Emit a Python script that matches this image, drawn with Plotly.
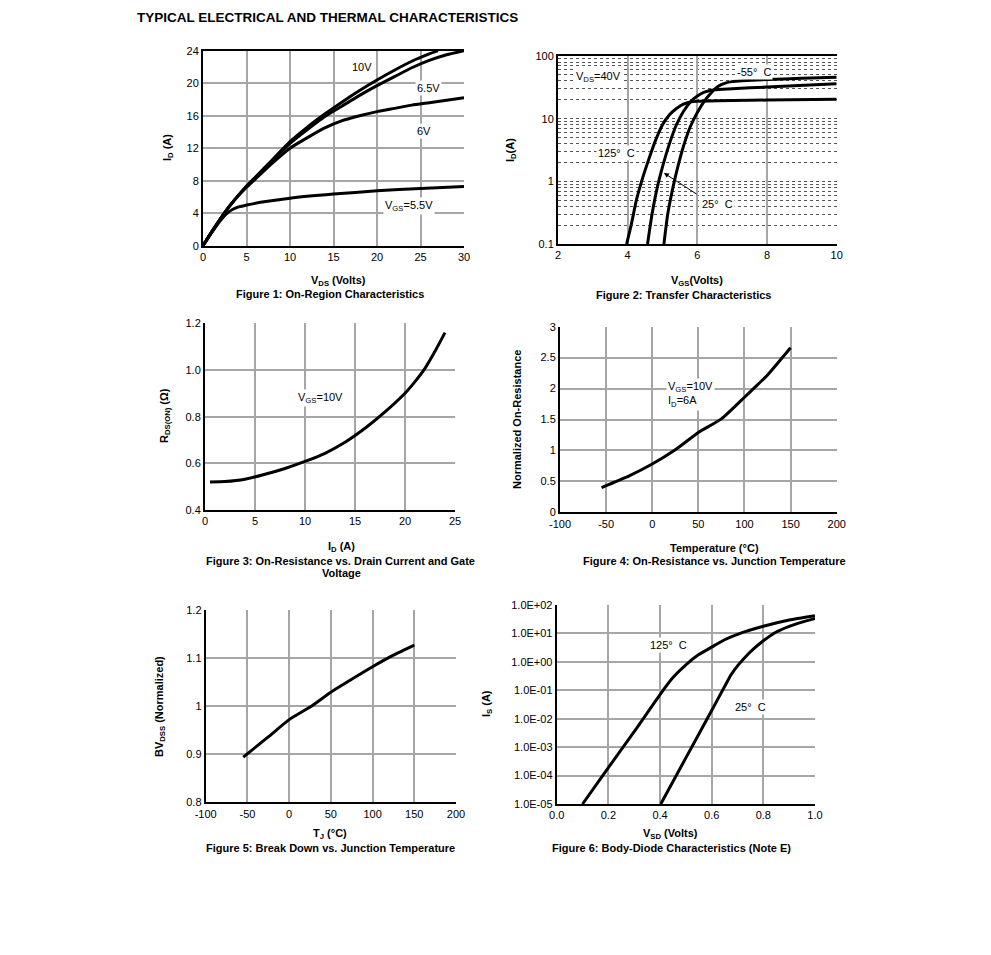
import plotly.graph_objects as go
from plotly.subplots import make_subplots

# ---------------- Data ----------------
# Figure 1: On-region characteristics (VDS, ID)
f1_vds_10 = [0, 1, 2, 3, 4, 5, 6, 8, 10, 12, 14, 16, 18, 20, 22, 24, 26, 27]
f1_id_10 = [0, 1.7, 3.3, 4.8, 6.1, 7.3, 8.4, 10.6, 12.8, 14.6, 16.2, 17.7, 19.1, 20.4, 21.6, 22.7, 23.6, 24.0]
f1_vds_65 = [0, 1, 2, 3, 4, 5, 6, 8, 10, 12, 14, 16, 18, 20, 22, 24, 26, 28, 30]
f1_id_65 = [0, 1.7, 3.3, 4.8, 6.1, 7.3, 8.4, 10.5, 12.6, 14.3, 15.9, 17.2, 18.5, 19.7, 20.8, 21.9, 22.8, 23.5, 24.0]
f1_vds_6 = [0, 1, 2, 3, 4, 5, 6, 8, 10, 12, 14, 16, 18, 20, 22, 24, 26, 28, 30]
f1_id_6 = [0, 1.7, 3.3, 4.8, 6.1, 7.2, 8.2, 10.2, 12.0, 13.3, 14.5, 15.4, 16.0, 16.5, 16.9, 17.3, 17.6, 17.9, 18.2]
f1_vds_55 = [0, 1, 2, 3, 4, 5, 7, 10, 15, 20, 25, 30]
f1_id_55 = [0, 1.6, 3.1, 4.2, 4.75, 5.0, 5.4, 5.85, 6.35, 6.75, 7.05, 7.3]

# Figure 2: Transfer characteristics (VGS, ID)
f2_vgs_125 = [3.97, 4.1, 4.25, 4.4, 4.6, 4.8, 5.0, 5.2, 5.4, 5.6, 5.8, 6.0, 7.0, 8.0, 10.0]
f2_id_125 = [0.1, 0.2, 0.5, 1.0, 2.2, 4.5, 8.0, 11.5, 14.5, 17.0, 18.5, 19.0, 19.5, 19.8, 20.5]
f2_vgs_25 = [4.57, 4.7, 4.85, 5.0, 5.2, 5.4, 5.6, 5.8, 6.0, 6.2, 6.5, 7.0, 8.0, 10.0]
f2_id_25 = [0.1, 0.3, 0.8, 1.7, 4.0, 8.0, 13.0, 18.5, 23.0, 26.5, 29.0, 30.0, 32.0, 36.0]
f2_vgs_m55 = [5.04, 5.15, 5.3, 5.45, 5.6, 5.8, 6.0, 6.2, 6.4, 6.6, 6.8, 7.0, 8.0, 9.0, 10.0]
f2_id_m55 = [0.1, 0.3, 0.8, 1.8, 3.6, 7.5, 12.5, 19.0, 26.0, 33.0, 37.0, 39.0, 42.0, 44.0, 46.0]

# Figure 3: On-resistance vs drain current
f3_id = [0.5, 2, 4, 6, 8, 10, 12, 14, 16, 18, 20, 21, 22, 23, 24]
f3_rds = [0.52, 0.522, 0.532, 0.553, 0.578, 0.608, 0.643, 0.69, 0.75, 0.82, 0.9, 0.95, 1.007, 1.08, 1.16]

# Figure 4: Normalized on-resistance vs temperature
f4_temp = [-55, -25, 0, 25, 50, 75, 100, 112, 125, 150]
f4_rn = [0.40, 0.59, 0.78, 1.01, 1.29, 1.51, 1.86, 2.03, 2.22, 2.66]

# Figure 5: Breakdown vs junction temperature
f5_temp = [-55, -25, 0, 25, 50, 75, 100, 125, 150]
f5_bv = [0.894, 0.936, 0.972, 0.998, 1.029, 1.056, 1.082, 1.106, 1.127]

# Figure 6: Body-diode characteristics (VSD, IS)
f6_vsd_125 = [0.1, 0.2, 0.3, 0.4, 0.45, 0.5, 0.55, 0.6, 0.65, 0.7, 0.8, 0.9, 1.0]
f6_is_125 = [1e-5, 1.9e-4, 3.5e-3, 7.1e-2, 2.8e-1, 7.9e-1, 1.8, 3.3, 6.0, 9.3, 17.8, 29.5, 41.7]
f6_vsd_25 = [0.403, 0.5, 0.6, 0.65, 0.675, 0.7, 0.725, 0.76, 0.8, 0.85, 0.9, 0.95, 1.0]
f6_is_25 = [1e-5, 4.2e-4, 1.95e-2, 0.135, 0.35, 0.72, 1.32, 2.75, 5.5, 11.2, 17.8, 25.1, 33.9]

f6_tickvals = [1e-5, 1e-4, 1e-3, 1e-2, 1e-1, 1, 10, 100]
f6_ticktext = ["1.0E-05", "1.0E-04", "1.0E-03", "1.0E-02", "1.0E-01", "1.0E+00", "1.0E+01", "1.0E+02"]
temp_ticks = [-100, -50, 0, 50, 100, 150, 200]
temp_ticktext = ["-100", "-50", "0", "50", "100", "150", "200"]

# ---------------- Figure ----------------
PAGE_W, PAGE_H = 991, 955
OFF = 8  # page body margin
W, H = PAGE_W - 2 * OFF, PAGE_H - 2 * OFF
FONT = "Liberation Sans, Arial, sans-serif"
GRID = "#a6a6a6"
LINE = dict(color="black", width=3, shape="spline", smoothing=0.5)

fig = make_subplots(rows=3, cols=2)

def px_dom_x(a, b):
    return [(a - OFF) / W, (b - OFF) / W]

def px_dom_y(top, bottom):
    return [1 - (bottom - OFF) / H, 1 - (top - OFF) / H]

doms = {
    1: (px_dom_x(203, 464), px_dom_y(50.7, 245.7)),
    2: (px_dom_x(558, 836.7), px_dom_y(56, 244)),
    3: (px_dom_x(205, 455), px_dom_y(323.3, 510)),
    4: (px_dom_x(560, 836.7), px_dom_y(326.7, 512.3)),
    5: (px_dom_x(205.7, 456), px_dom_y(610, 802.3)),
    6: (px_dom_x(556.7, 815), px_dom_y(605, 804)),
}

def add(x, y, r, c):
    fig.add_trace(go.Scatter(x=x, y=y, mode="lines", line=LINE, showlegend=False,
                             hoverinfo="skip"), row=r, col=c)

add(f1_vds_10, f1_id_10, 1, 1)
add(f1_vds_65, f1_id_65, 1, 1)
add(f1_vds_6, f1_id_6, 1, 1)
add(f1_vds_55, f1_id_55, 1, 1)
add(f2_vgs_125, f2_id_125, 1, 2)
add(f2_vgs_25, f2_id_25, 1, 2)
add(f2_vgs_m55, f2_id_m55, 1, 2)
add(f3_id, f3_rds, 2, 1)
add(f4_temp, f4_rn, 2, 2)
add(f5_temp, f5_bv, 3, 1)
add(f6_vsd_125, f6_is_125, 3, 2)
add(f6_vsd_25, f6_is_25, 3, 2)

tickfont = dict(family=FONT, size=11, color="black")
common_x = dict(showline=True, linecolor="black", linewidth=2, showgrid=True, gridcolor=GRID,
                gridwidth=1.5, zeroline=False, ticks="", tickfont=tickfont, automargin=False)
common_y = dict(showline=True, linecolor="black", linewidth=2, showgrid=True, gridcolor=GRID,
                gridwidth=1.5, zeroline=False, ticks="", tickfont=tickfont, automargin=False)

axes_cfg = {
    1: (dict(range=[0, 30], dtick=5, tick0=0, mirror=True),
        dict(range=[0, 24], dtick=4, tick0=0)),
    2: (dict(range=[2, 10], dtick=2, tick0=2, mirror=True),
        dict(type="log", range=[-1, 2], tickvals=[0.1, 1, 10, 100], ticktext=["0.1", "1", "10", "100"],
             gridcolor="#555555", griddash="dot", gridwidth=1,
             minor=dict(showgrid=True, gridcolor="#555555", griddash="dot", gridwidth=1, dtick="D1"))),
    3: (dict(range=[0, 25], dtick=5, tick0=0),
        dict(range=[0.4, 1.2], dtick=0.2, tick0=0.4, tickformat=".1f")),
    4: (dict(range=[-100, 200], tickvals=temp_ticks, ticktext=temp_ticktext),
        dict(range=[0, 3], dtick=0.5, tick0=0)),
    5: (dict(range=[-100, 200], tickvals=temp_ticks, ticktext=temp_ticktext),
        dict(range=[0.8, 1.2], tickvals=[0.8, 0.9, 1.0, 1.1, 1.2], ticktext=["0.8", "0.9", "1", "1.1", "1.2"])),
    6: (dict(range=[0, 1], dtick=0.2, tick0=0, tickformat=".1f"),
        dict(type="log", range=[-5, 2], tickvals=f6_tickvals, ticktext=f6_ticktext)),
}

for i in range(1, 7):
    xs = "xaxis" if i == 1 else f"xaxis{i}"
    ys = "yaxis" if i == 1 else f"yaxis{i}"
    xd, yd = doms[i]
    xc = dict(common_x); xc.update(axes_cfg[i][0]); xc["domain"] = xd
    yc = dict(common_y); yc.update(axes_cfg[i][1]); yc["domain"] = yd
    fig.layout[xs].update(xc)
    fig.layout[ys].update(yc)

ann = []

def lab(text, x, y, xref, yref, size=11, **kw):
    d = dict(text=text, x=x, y=y, xref=xref, yref=yref, showarrow=False,
             font=dict(family=FONT, size=size, color="black"), bgcolor="white")
    d.update(kw)
    ann.append(d)

# Curve labels
lab("10V", 18.3, 22.0, "x", "y")
lab("6.5V", 25.9, 19.4, "x", "y")
lab("6V", 25.4, 14.1, "x", "y")
lab("V<sub>GS</sub>=5.5V", 23.7, 4.9, "x", "y")

lab("V<sub>DS</sub>=40V", 3.15, 1.665, "x2", "y2")
lab("-55°  C", 7.63, 1.745, "x2", "y2")
lab("125°  C", 3.69, 0.452, "x2", "y2")
lab("25°  C", 6.59, -0.362, "x2", "y2")
ann.append(dict(x=5.04, y=0.133, ax=6.02, ay=-0.218, xref="x2", yref="y2", axref="x2", ayref="y2",
                showarrow=True, arrowhead=2, arrowsize=1, arrowwidth=1, arrowcolor="black", text=""))

lab("V<sub>GS</sub>=10V", 11.5, 0.88, "x3", "y3")
lab("V<sub>GS</sub>=10V<br>I<sub>D</sub>=6A", 41.5, 1.896, "x4", "y4", align="left")

lab("125°  C", 0.431, 0.593, "x6", "y6")
lab("25°  C", 0.752, -1.588, "x6", "y6")

# Paper-level text (page pixel positions)
def ptxt(text, xp, yp, size=11, bold=True, angle=0, xanchor="center"):
    t = f"<b>{text}</b>" if bold else text
    ann.append(dict(text=t, x=(xp - OFF) / W, y=1 - (yp - OFF) / H, xref="paper", yref="paper",
                    showarrow=False, textangle=angle, xanchor=xanchor, yanchor="middle",
                    font=dict(family=FONT, size=size, color="black")))

ptxt("TYPICAL ELECTRICAL AND THERMAL CHARACTERISTICS", 135, 18, size=13.5, xanchor="left")

ptxt("V<sub>DS</sub> (Volts)", 338, 281)
ptxt("Figure 1: On-Region Characteristics", 330, 294)
ptxt("V<sub>GS</sub>(Volts)", 697, 281)
ptxt("Figure 2: Transfer Characteristics", 683, 295)
ptxt("I<sub>D</sub> (A)", 341, 547)
ptxt("Figure 3: On-Resistance vs. Drain Current and Gate", 340, 561)
ptxt("Voltage", 341, 573)
ptxt("Temperature (°C)", 714, 548)
ptxt("Figure 4: On-Resistance vs. Junction Temperature", 714, 561)
ptxt("T<sub>J</sub> (°C)", 330, 834)
ptxt("Figure 5: Break Down vs. Junction Temperature", 330, 848)
ptxt("V<sub>SD</sub> (Volts)", 670, 834)
ptxt("Figure 6: Body-Diode Characteristics (Note E)", 671, 848)

ptxt("I<sub>D</sub> (A)", 168, 148, angle=-90)
ptxt("I<sub>D</sub>(A)", 511, 150, angle=-90)
ptxt("R<sub>DS(ON)</sub> (Ω)", 165, 416, angle=-90)
ptxt("Normalized On-Resistance", 517, 420, angle=-90)
ptxt("BV<sub>DSS</sub> (Normalized)", 160, 707, angle=-90)
ptxt("I<sub>S</sub> (A)", 487, 704, angle=-90)

fig.update_layout(
    template="none",
    width=W, height=H, margin=dict(l=0, r=0, t=0, b=0, pad=0, autoexpand=False),
    paper_bgcolor="white", plot_bgcolor="white",
    showlegend=False, annotations=ann,
    font=dict(family=FONT, size=11, color="black"),
)

fig.write_html("out.html")
